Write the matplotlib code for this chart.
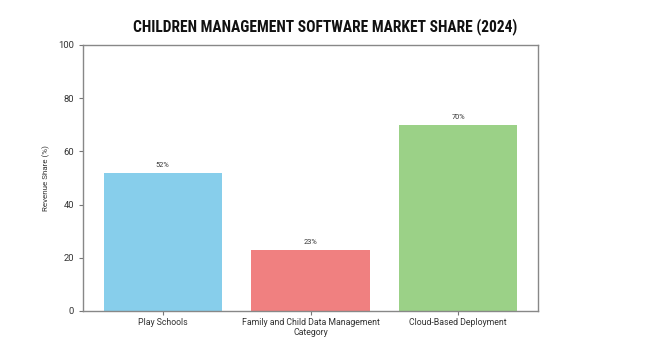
import matplotlib.pyplot as plt

categories = ['Play Schools', 'Family and Child Data Management', 'Cloud-Based Deployment']
shares = [52, 23, 70]
colors = ['#87CEEB', '#F08080', '#9BD187']

plt.rcParams['font.family'] = ['Roboto', 'DejaVu Sans']

fig = plt.figure(figsize=(6.5, 3.5), dpi=100)
ax = fig.add_axes([83 / 650, 1 - 311 / 350, (538 - 83) / 650, (311 - 45) / 350])

x = list(range(len(categories)))
ax.bar(x, shares, width=0.8, color=colors)

# value labels above bars
for xi, v in zip(x, shares):
    ax.text(xi, v + 1.5, f'{v}%', ha='center', va='bottom', fontsize=5.3, color='#333333')

ax.set_xlim(-0.54, 2.54)
ax.set_ylim(0, 100)
ax.set_xticks(x)
ax.set_xticklabels(categories, fontsize=6.3, color='#333333')
ax.tick_params(axis='y', labelsize=6.8, labelcolor='#333333', color='#777777', length=3)
ax.tick_params(axis='x', color='#777777', length=3, pad=2)
ax.set_xlabel('Category', fontsize=6.3, color='#333333', labelpad=1)
ax.set_ylabel('Revenue Share (%)', fontsize=5.8, color='#333333', labelpad=6)
for s in ax.spines.values():
    s.set_color('#888888')
    s.set_linewidth(1)

fig.text(0.5, 1 - 27 / 350, 'CHILDREN MANAGEMENT SOFTWARE MARKET SHARE (2024)',
         ha='center', va='center', fontsize=11.2, fontweight='bold',
         family=['Roboto Condensed', 'DejaVu Sans'], color='#111111')

fig.savefig('out.png', dpi=100)
